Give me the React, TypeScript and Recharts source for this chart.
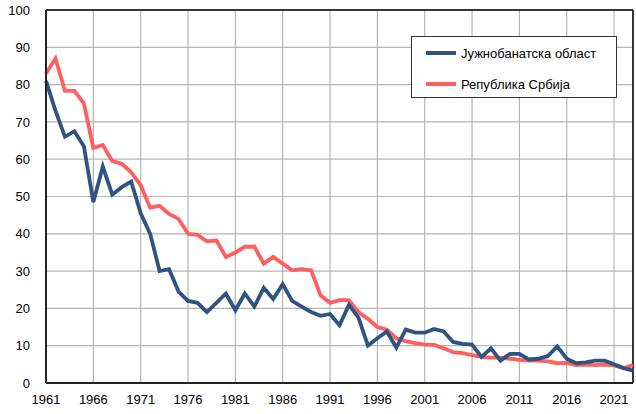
import React from "react";
import { LineChart, Line, XAxis, YAxis, CartesianGrid, Legend, ReferenceLine } from "recharts";

const years: number[] = Array.from({ length: 63 }, (_, i) => 1961 + i);

const juznobanatska: number[] = [
  81, 73, 66, 67.5, 63.5, 48.5, 58, 50.5, 52.5, 54,
  45.5, 40, 30, 30.5, 24.5, 22, 21.5, 19, 21.5, 24,
  19.5, 24, 20.5, 25.5, 22.5, 26.5, 22, 20.5, 19, 18,
  18.5, 15.5, 21, 17.5, 10, 12, 13.8, 9.5, 14.3, 13.5,
  13.5, 14.5, 13.8, 11, 10.5, 10.3, 7, 9.3, 6, 7.8,
  7.8, 6.3, 6.5, 7.2, 9.8, 6.5, 5.3, 5.5, 6, 6,
  5, 4, 3.3,
];

const srbija: number[] = [
  83, 87, 78.3, 78.3, 75, 63, 63.8, 59.5, 58.8, 56.5,
  53, 47, 47.5, 45.3, 44, 40, 39.7, 38, 38.2, 33.8,
  35, 36.5, 36.6, 32, 33.8, 32, 30.2, 30.5, 30.2, 23.5,
  21.5, 22.2, 22.2, 19, 17.2, 15, 14.3, 12, 11.2, 10.7,
  10.3, 10.2, 9.3, 8.3, 8, 7.5, 7, 6.8, 6.8, 6.5,
  6.2, 6, 6, 5.8, 5.3, 5.4, 4.8, 4.9, 4.8, 4.9,
  4.7, 4, 4.8,
];

const xTicks: number[] = [1961, 1966, 1971, 1976, 1981, 1986, 1991, 1996, 2001, 2006, 2011, 2016, 2021];
const yTicks: number[] = [0, 10, 20, 30, 40, 50, 60, 70, 80, 90, 100];

const seriesNames = ["Јужнобанатска област", "Република Србија"];
const seriesColors = ["#2F5382", "#FF5F5F"];

const data = years.map((y, i) => ({ year: y, a: juznobanatska[i], b: srbija[i] }));

const FONT = "'Liberation Sans', Arial, sans-serif";

const LegendContent = () => (
  <div
    style={{
      width: 206,
      height: 62,
      border: "1px solid #333",
      background: "#fff",
      fontFamily: FONT,
      fontSize: 13,
      color: "#000",
      boxSizing: "border-box",
      position: "relative",
    }}
  >
    {seriesNames.map((n, i) => (
      <div
        key={n}
        style={{ position: "absolute", left: 14, top: i === 0 ? 6 : 37, display: "flex", alignItems: "center", height: 20 }}
      >
        <svg width={30} height={6} style={{ display: "block" }}>
          <line x1={0} y1={3} x2={30} y2={3} stroke={seriesColors[i]} strokeWidth={4} />
        </svg>
        <span style={{ marginLeft: 5 }}>{n}</span>
      </div>
    ))}
  </div>
);

export default function App() {
  return (
    <div style={{ position: "fixed", left: 0, top: 0, width: 636, height: 414, background: "#fff" }}>
      <LineChart width={636} height={414} data={data} margin={{ top: 10, right: 3, left: 0, bottom: 0 }}>
        <CartesianGrid stroke="#b4b4b4" strokeWidth={1.2} />
        <XAxis
          dataKey="year"
          type="number"
          domain={[1961, 2023]}
          ticks={xTicks}
          interval={0}
          tickLine={false}
          axisLine={{ stroke: "#222", strokeWidth: 2 }}
          tick={{ fill: "#000", fontSize: 13, fontFamily: FONT }}
          height={31}
          tickMargin={6}
        />
        <YAxis
          type="number"
          domain={[0, 100]}
          ticks={yTicks}
          interval={0}
          tickLine={false}
          axisLine={{ stroke: "#222", strokeWidth: 2 }}
          tick={{ fill: "#000", fontSize: 13, fontFamily: FONT }}
          width={46}
          tickMargin={10}
        />
        <ReferenceLine y={100} stroke="#000" strokeWidth={1.5} ifOverflow="visible" />
        <ReferenceLine x={2023} stroke="#000" strokeWidth={1.5} ifOverflow="visible" />
        <Legend
          layout="horizontal"
          verticalAlign="middle"
          align="center"
          content={<LegendContent />}
          wrapperStyle={{ position: "absolute", left: 411, top: 36, width: 206, height: 62 }}
        />
        <Line
          type="linear"
          dataKey="b"
          name={seriesNames[1]}
          stroke={seriesColors[1]}
          strokeWidth={3.8}
          dot={false}
          isAnimationActive={false}
        />
        <Line
          type="linear"
          dataKey="a"
          name={seriesNames[0]}
          stroke={seriesColors[0]}
          strokeWidth={3.8}
          dot={false}
          isAnimationActive={false}
        />
      </LineChart>
    </div>
  );
}
